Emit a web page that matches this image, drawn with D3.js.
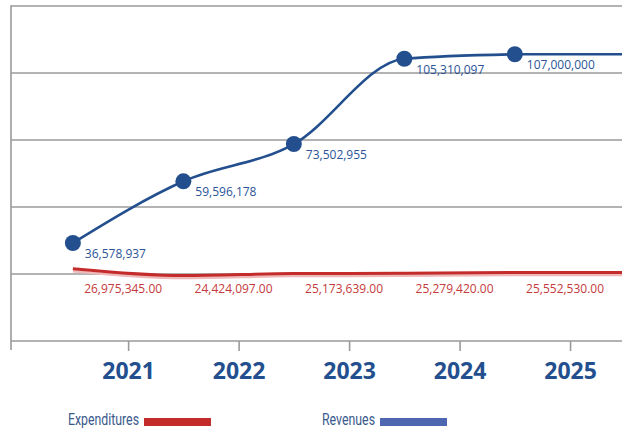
<!DOCTYPE html>
<html lang="en">
<head>
  <meta charset="UTF-8">
  <title>Revenues and Expenditures 2021-2025</title>
  <style>
    body {
      margin: 0;
      background: #fff;
      font-family: 'Open Sans', sans-serif;
    }
    svg {
      display: block;
    }
  </style>
</head>
<body>

<svg width="622" height="432"></svg>

<script src="https://d3js.org/d3.v7.min.js"></script>
<script>
const years = [2021, 2022, 2023, 2024, 2025];
const revenues = [36578937, 59596178, 73502955, 105310097, 107000000];
const expenditures = [26975345, 24424097, 25173639, 25279420, 25552530];
const legendItems = ["Expenditures", "Revenues"];

const blue = "#234f8e";
const red = "#c42b2b";
const grid = "#9a9a9a";

const svg = d3.select("svg");
const width = 622;

// one band per year, tick in the middle, values sit at the start of the band
const x = d3.scaleLinear().domain([2019.94, 2025.47]).range([11, width]);
const y = d3.scaleLinear().domain([0, 125e6]).range([341, 6]);

const revData = years.map((yr, i) => ({ year: yr, value: revenues[i] }));
const expData = years.map((yr, i) => ({ year: yr, value: expenditures[i] }));
const pos = d => x(d.year - 0.5);

// gridlines every 25M
svg.append("g")
  .selectAll("line")
  .data(d3.range(0, 125e6 + 1, 25e6))
  .join("line")
  .attr("x1", x.range()[0])
  .attr("x2", x.range()[1])
  .attr("y1", d => y(d))
  .attr("y2", d => y(d))
  .attr("stroke", grid)
  .attr("stroke-width", 1.6);

// left axis line
svg.append("line")
  .attr("x1", 11).attr("x2", 11)
  .attr("y1", y.range()[1] - 0.8).attr("y2", y(0) + 9)
  .attr("stroke", grid)
  .attr("stroke-width", 1.6);

// year ticks + labels
const xAxis = svg.append("g")
  .attr("transform", `translate(0,${y(0)})`)
  .call(d3.axisBottom(x).tickValues(years).tickFormat(d3.format("d")).tickSize(10).tickPadding(12))
  .call(g => g.select(".domain").remove());
xAxis.selectAll(".tick line").attr("stroke", grid).attr("stroke-width", 1.6);
xAxis.selectAll(".tick text")
  .attr("fill", blue)
  .attr("font-family", "Open Sans, sans-serif")
  .attr("font-weight", "bold")
  .attr("font-size", "23px");

// lines run on flat past the last year to the edge
const lineGen = d3.line().x(pos).y(d => y(d.value)).curve(d3.curveMonotoneX);
const extend = (path, data) => {
  const last = data[data.length - 1];
  return path + `L${x.range()[1]},${y(last.value)}`;
};

svg.append("path")
  .attr("d", extend(lineGen(expData), expData))
  .attr("transform", "translate(0,2.5)")
  .attr("fill", "none")
  .attr("stroke", "#f0b9b9")
  .attr("stroke-width", 2.5);

svg.append("path")
  .attr("d", extend(lineGen(expData), expData))
  .attr("fill", "none")
  .attr("stroke", red)
  .attr("stroke-width", 3);

svg.append("path")
  .attr("d", extend(lineGen(revData), revData))
  .attr("fill", "none")
  .attr("stroke", blue)
  .attr("stroke-width", 2.6);

svg.append("g")
  .selectAll("circle")
  .data(revData)
  .join("circle")
  .attr("cx", pos)
  .attr("cy", d => y(d.value))
  .attr("r", 8)
  .attr("fill", blue);

svg.append("g")
  .selectAll("text")
  .data(revData)
  .join("text")
  .attr("x", d => pos(d) + 12)
  .attr("y", d => y(d.value) + 15)
  .attr("fill", "#2b5597")
  .attr("font-size", "12px")
  .text(d => d3.format(",")(d.value));

const expLabelY = y(d3.mean(expenditures)) + 20;
svg.append("g")
  .selectAll("text")
  .data(expData)
  .join("text")
  .attr("x", d => x(d.year) - 5)
  .attr("y", expLabelY)
  .attr("text-anchor", "middle")
  .attr("fill", "#c53a3c")
  .attr("font-size", "12px")
  .text(d => d3.format(",.2f")(d.value));

// legend
const legendX = [68, 322];
const legendW = [71, 53];
const legendColors = [red, "#4f66b0"];
const legend = svg.append("g")
  .selectAll("g")
  .data(legendItems)
  .join("g")
  .attr("transform", (d, i) => `translate(${legendX[i]},425)`);
legend.append("text")
  .attr("fill", "#3a5a8c")
  .attr("font-family", "Roboto, sans-serif")
  .attr("font-size", "17px")
  .attr("textLength", (d, i) => legendW[i])
  .attr("lengthAdjust", "spacingAndGlyphs")
  .text(d => d);
legend.append("rect")
  .attr("x", (d, i) => legendW[i] + 5)
  .attr("y", -7)
  .attr("width", 67)
  .attr("height", 8)
  .attr("fill", (d, i) => legendColors[i]);
</script>

</body>
</html>
